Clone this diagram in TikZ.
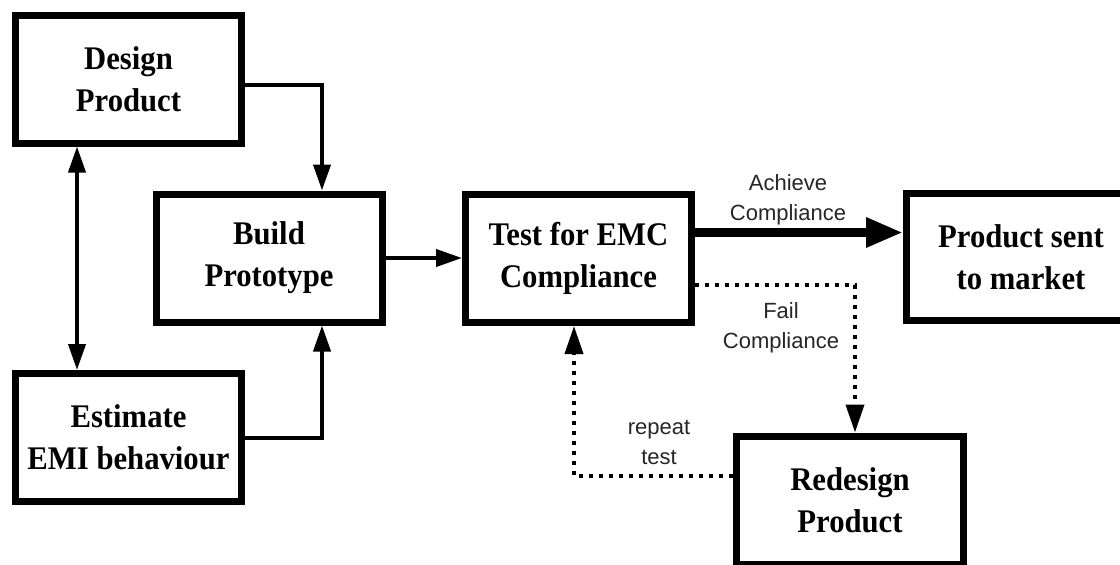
\documentclass[tikz,border=0pt]{standalone}
\usepackage{fontspec}
\setmainfont{Liberation Serif}
\newfontfamily\boxfont[FakeStretch=0.93]{Liberation Serif}
\newfontfamily\labfont{Liberation Sans}
\usetikzlibrary{arrows.meta}
\begin{document}
\begin{tikzpicture}[x=1pt,y=-1pt,
  box/.style={draw, line width=7pt, minimum width=226pt, minimum height=128pt,
    inner sep=0pt, align=center,
    font=\fontsize{33}{42}\selectfont\boxfont\bfseries},
  lab/.style={align=center, inner sep=0pt, text=black!85,
    font=\fontsize{22}{30}\selectfont\labfont},
  conn/.style={line width=4pt, -{Triangle[length=26pt,width=17pt]}},
  bigconn/.style={line width=9pt, -{Triangle[length=37pt,width=28pt]}},
  dotconn/.style={line width=4pt, dash pattern=on 4pt off 6pt,
    -{Triangle[length=28pt,width=18pt]}}
]
\useasboundingbox (0,0) rectangle (1120,565);
\clip (0,0) rectangle (1120,565);
\fill[white] (0,0) rectangle (1120,565);

\node[box] (des) at (128.5,79) {Design\\Product};
\node[box] (est) at (128.5,437.5) {Estimate\\EMI behaviour};
\node[box] (bld) at (269,258) {Build\\Prototype};
\node[box] (tst) at (578.5,258.5) {Test for EMC\\Compliance};
\node[box, minimum width=229pt, minimum height=127pt] (prd) at (1021,257) {Product sent\\to market};
\node[box, minimum width=227pt] (rdg) at (850,500) {Redesign\\Product};

\node[lab] (ach) at (788,200) {Achieve\\Compliance};
\node[lab] (fail) at (781,328) {Fail\\Compliance};
\node[lab] (rep) at (659,442) {repeat\\test};

\draw[conn] ([yshift=-6pt]des.east) -| ([xshift=53pt]bld.north);
\draw[conn] (est.east) -| ([xshift=53pt]bld.south);
\draw[line width=4pt, {Triangle[length=26pt,width=17pt]}-{Triangle[length=26pt,width=17pt]}]
  ([xshift=-51.5pt]des.south) -- ([xshift=-51.5pt]est.north);
\draw[conn] (bld.east) -- (bld.east -| tst.west);
\draw[bigconn] ([yshift=26pt]tst.east) -- ([yshift=26pt]tst.east -| prd.west);
\draw[dotconn] ([yshift=-26.5pt]tst.east) -| ([xshift=5pt]rdg.north);
\draw[dotconn] ([yshift=24pt]rdg.west) -| ([xshift=-4.5pt]tst.south);
\end{tikzpicture}
\end{document}
